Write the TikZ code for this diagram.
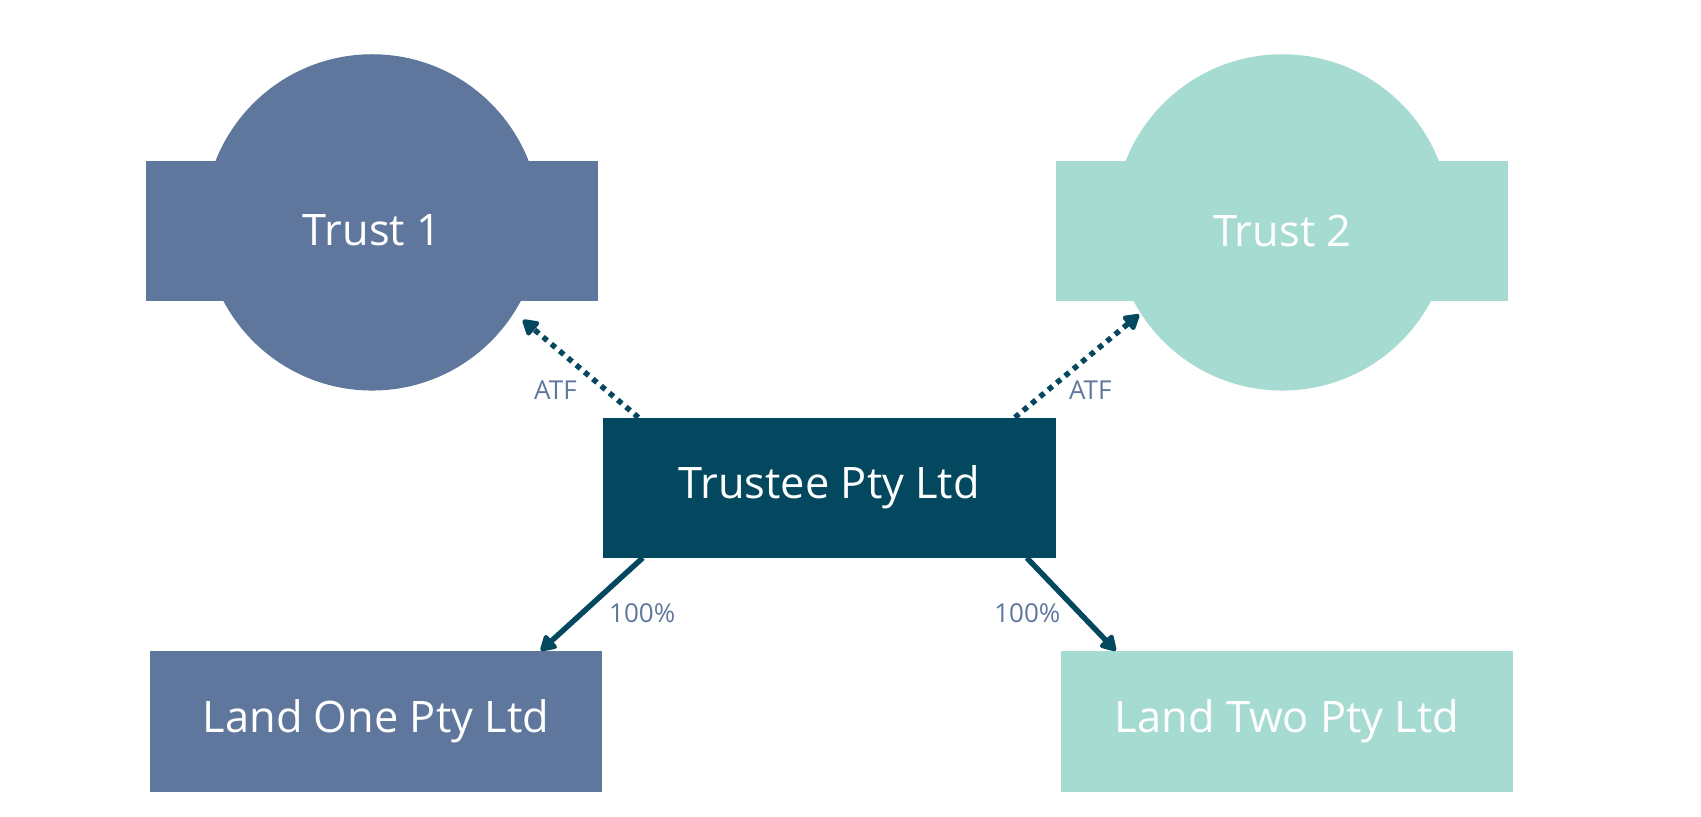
\documentclass[tikz,border=0pt]{standalone}
\usepackage{fontspec}
\setmainfont{Open Sans}
\usetikzlibrary{arrows.meta}
\definecolor{tblue}{HTML}{5F779C}
\definecolor{tmint}{HTML}{A5DBD1}
\definecolor{tdark}{HTML}{04485F}
\begin{document}
\begin{tikzpicture}[x=1pt,y=-1pt,
  box/.style={draw=none,minimum width=417pt,minimum height=129pt,inner sep=0pt,text=white,font=\fontsize{40}{44}\selectfont},
  disc/.style={circle,draw=none,minimum size=310pt,inner sep=0pt},
  lbl/.style={text=tblue,font=\fontsize{24}{28}\selectfont},
  link/.style={draw=tdark,line width=5pt,-{Triangle[length=16pt,width=18pt,round]}},
  dots/.style={link,dash pattern=on 5pt off 5pt}]
\useasboundingbox (0,0) rectangle (1568,753);
\node[disc,fill=tblue] (c1) at (343,205) {};
\node[box,fill=tblue] (t1) at (343,212.5) {Trust 1};
\node[disc,fill=tmint] (c2) at (1182,205) {};
\node[box,fill=tmint] (t2) at (1182,212.5) {Trust 2};
\node[box,fill=tdark] (tr) at (764.5,449.5) {Trustee Pty Ltd};
\node[box,fill=tblue,minimum height=130pt] (l1) at (346.5,665) {Land One Pty Ltd};
\node[box,fill=tmint,minimum height=130pt] (l2) at (1186.5,665) {Land Two Pty Ltd};
\coordinate (a1) at (482,295);
\coordinate (a2) at (1050,290);
\draw[dots] ([xshift=-176pt]tr.north) -- (a1);
\draw[dots] ([xshift=171pt]tr.north) -- (a2);
\draw[link] ([xshift=-172pt]tr.south) -- ([xshift=152pt]l1.north);
\draw[link] ([xshift=182pt]tr.south) -- ([xshift=-158pt]l2.north);
\node[lbl] (atf1) at (512,360) {ATF};
\node[lbl] (atf2) at (1005,360) {ATF};
\node[lbl] (p1) at (592,565) {100\%};
\node[lbl] (p2) at (947,565) {100\%};
\end{tikzpicture}
\end{document}
